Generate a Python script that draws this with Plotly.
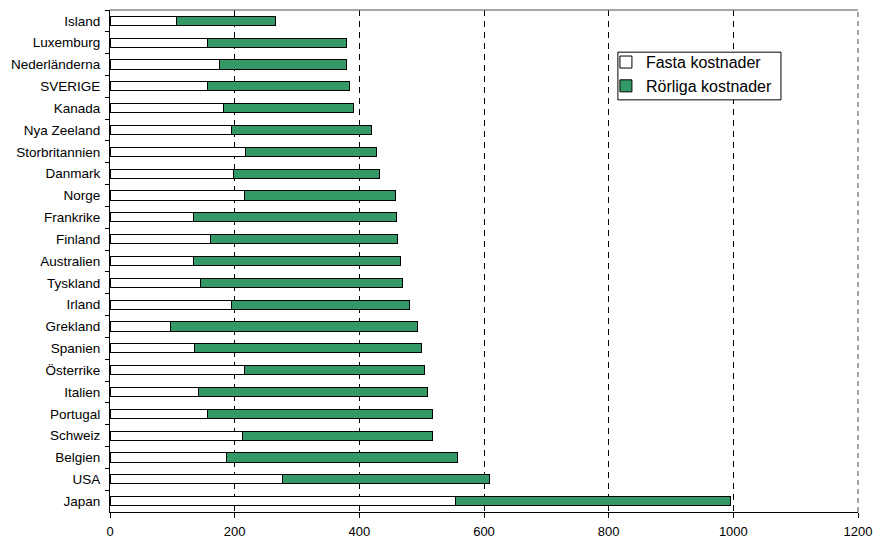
import plotly.graph_objects as go

countries = ["Island", "Luxemburg", "Nederländerna", "SVERIGE", "Kanada", "Nya Zeeland",
             "Storbritannien", "Danmark", "Norge", "Frankrike", "Finland", "Australien",
             "Tyskland", "Irland", "Grekland", "Spanien", "Österrike", "Italien",
             "Portugal", "Schweiz", "Belgien", "USA", "Japan"]
fasta = [106, 156, 176, 156, 182, 195, 218, 198, 216, 134, 162, 134,
         145, 195, 97, 136, 215, 142, 157, 213, 187, 276, 554]
totals = [266, 379, 380, 384, 391, 420, 427, 433, 458, 459, 461, 466,
          469, 481, 494, 499, 505, 510, 518, 517, 558, 609, 996]
rorliga = [t - f for t, f in zip(totals, fasta)]
xticks = [0, 200, 400, 600, 800, 1000, 1200]

fig = go.Figure()
fig.add_trace(go.Bar(y=countries, x=fasta, orientation="h", name="Fasta kostnader",
                     marker=dict(color="white", line=dict(color="black", width=1))))
fig.add_trace(go.Bar(y=countries, x=rorliga, orientation="h", name="Rörliga kostnader",
                     marker=dict(color="#339966", line=dict(color="black", width=1))))

fig.update_layout(
    barmode="stack", bargap=0.58,
    width=876, height=541,
    margin=dict(l=110, r=18, t=10, b=29),
    paper_bgcolor="white", plot_bgcolor="white",
    font=dict(family="Liberation Sans, Arial, sans-serif", color="black", size=12),
    showlegend=True,
    legend=dict(x=0.663, y=0.930, xanchor="left", yanchor="top",
                bgcolor="rgba(0,0,0,0)", borderwidth=0,
                font=dict(size=16), itemwidth=30, tracegroupgap=0,
                traceorder="normal"),
    shapes=[
        dict(type="line", xref="paper", yref="paper", x0=0, x1=1, y0=1, y1=1,
             line=dict(color="#888888", width=1.5), layer="above"),
        dict(type="line", xref="paper", yref="paper", x0=1, x1=1, y0=0, y1=1,
             line=dict(color="#888888", width=1.5, dash="5px,4px"), layer="above"),
        dict(type="rect", xref="paper", yref="paper", x0=0.679, x1=0.897,
             y0=0.821, y1=0.916, fillcolor="white",
             line=dict(color="black", width=1), layer="above"),
    ],
)
fig.update_xaxes(range=[0, 1200], tickvals=xticks, ticktext=[str(v) for v in xticks],
                 showgrid=True, gridcolor="black", gridwidth=1, griddash="6px,5px",
                 showline=True, linecolor="black", linewidth=1,
                 ticks="outside", ticklen=5, tickcolor="black",
                 tickfont=dict(size=13), zeroline=False, automargin=False,
                 ticklabeloverflow="allow", ticklabelstandoff=2)
fig.update_yaxes(categoryorder="array", categoryarray=countries, autorange="reversed",
                 showline=True, linecolor="black", linewidth=1,
                 ticks="outside", ticklen=4, tickcolor="black", tickson="boundaries",
                 showgrid=False, tickfont=dict(size=13.5), automargin=False,
                 ticklabelstandoff=6)

fig.write_html(
    "out.html",
    config={"displayModeBar": False},
    post_script="document.body.style.margin='0';document.body.style.overflow='hidden';",
)
